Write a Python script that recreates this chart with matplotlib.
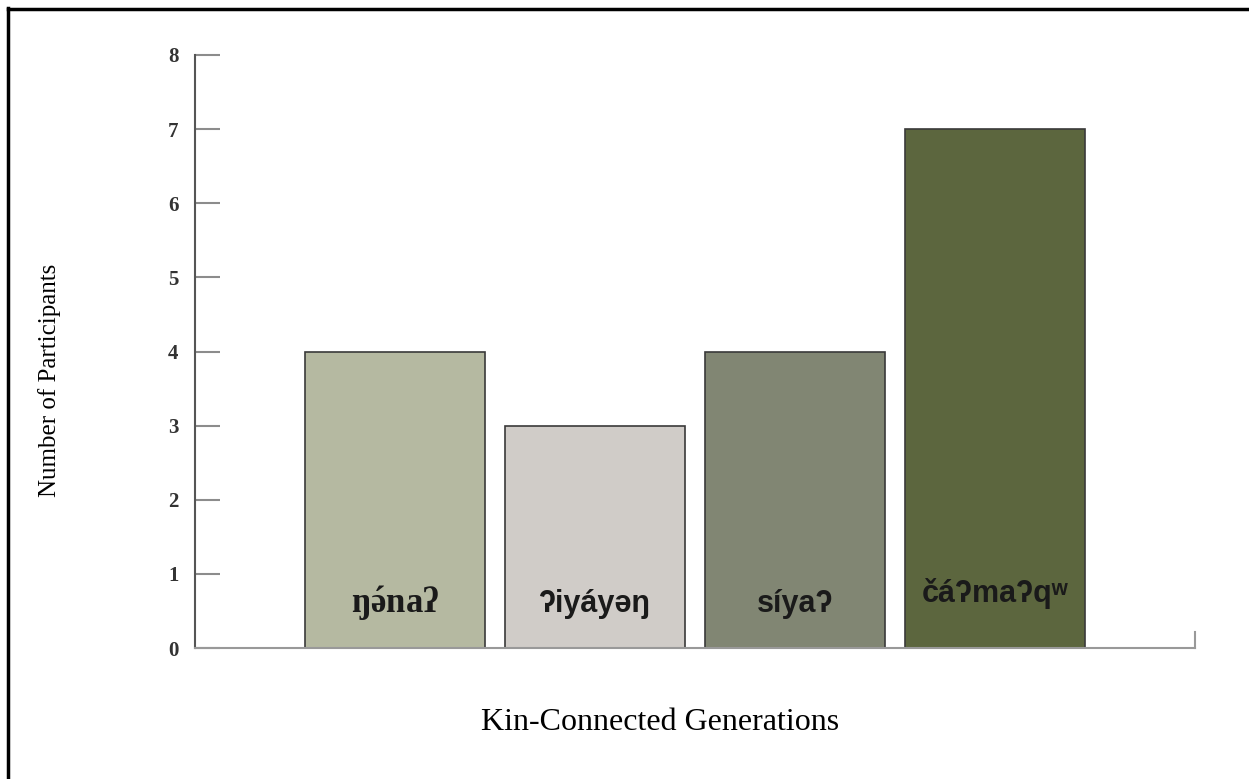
import matplotlib.pyplot as plt
from matplotlib.lines import Line2D

plt.rcParams['mathtext.fontset'] = 'custom'
plt.rcParams['mathtext.rm'] = 'Liberation Serif'
plt.rcParams['mathtext.bf'] = 'Liberation Serif:bold'

# kin-connected generations and participant counts
generations = [r'$\mathbf{ŋ\acute{ə}naʔ}$', 'ʔiyáyəŋ', 'síyaʔ', 'čáʔmaʔqʷ']
participants = [4, 3, 4, 7]
colors = ['#b5b9a1', '#d0ccc8', '#818673', '#5c663e']
label_fonts = ['Liberation Serif', 'Liberation Sans', 'Liberation Sans', 'Liberation Sans']
label_sizes = [25, 22, 22, 22]
label_y = [0.6, 0.6, 0.6, 0.74]

fig = plt.figure(figsize=(12.49, 7.79), dpi=100)
ax = fig.add_axes([195/1249, 131/779, 1000/1249, 593/779])

pos = [i + 1 for i in range(len(generations))]
ax.bar(pos, participants, width=0.9, color=colors, edgecolor='#3a3a3a', linewidth=1.2, zorder=2)

for x, name, font, fs, yl in zip(pos, generations, label_fonts, label_sizes, label_y):
    ax.text(x, yl, name, ha='center', va='center', fontsize=fs, fontweight='bold',
            family=[font, 'DejaVu Sans'], color='#1a1a1a', zorder=3)

ax.set_xlim(0, 5)
ax.set_ylim(0, 8)
ax.set_xticks([])
ax.set_yticks(range(0, 9))
ax.tick_params(axis='y', direction='in', length=18, width=1.5, color='#8c8c8c', pad=12,
               labelsize=15, labelcolor='#333333')
for lbl in ax.get_yticklabels():
    lbl.set_fontweight('bold')
    lbl.set_family('Liberation Serif')

for side in ['top', 'right']:
    ax.spines[side].set_visible(False)
ax.spines['left'].set_color('#555555')
ax.spines['left'].set_linewidth(1.5)
ax.spines['bottom'].set_color('#999999')
ax.spines['bottom'].set_linewidth(1.5)
# small end tick at the right of the baseline
ax.axvline(5, ymin=0, ymax=0.027, color='#999999', lw=1.5, clip_on=False)

fig.text(50/1249, 1 - 380/779, 'Number of Participants', ha='center', va='center',
         rotation=90, fontsize=18, family='Liberation Serif')
fig.text(660/1249, 1 - 722/779, 'Kin-Connected Generations', ha='center', va='center',
         fontsize=23, family='Liberation Serif')

# page frame: left and top edges
fig.add_artist(Line2D([8/1249, 8/1249], [0, 1 - 8/779], color='black', lw=2.5))
fig.add_artist(Line2D([8/1249, 1], [1 - 9/779, 1 - 9/779], color='black', lw=2.5))

fig.savefig('out.png', dpi=100, facecolor='white')
